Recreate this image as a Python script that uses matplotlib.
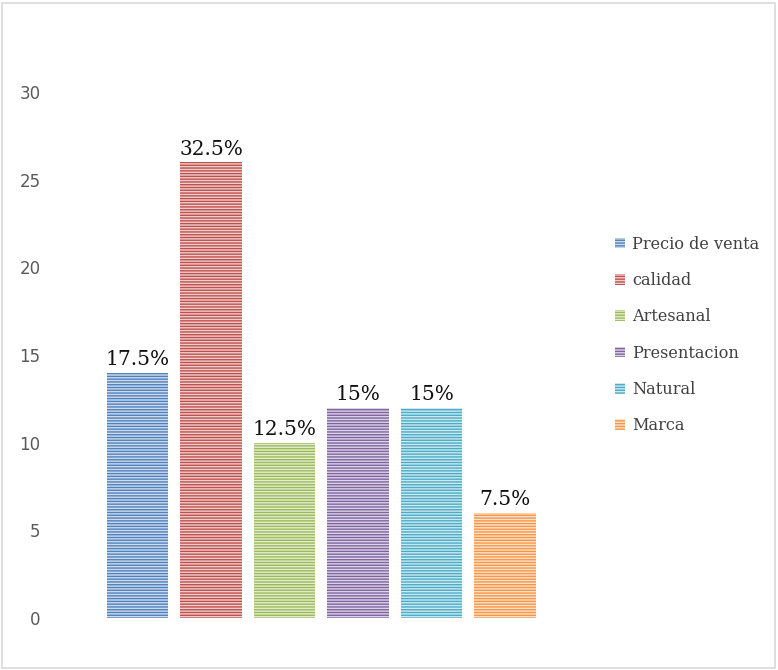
import matplotlib.pyplot as plt
from matplotlib.patches import Rectangle
import matplotlib.colors as mcolors
import numpy as np

# survey counts per attribute (80 answers in total)
categorias = ["Precio de venta", "calidad", "Artesanal", "Presentacion", "Natural", "Marca"]
valores = [14, 26, 10, 12, 12, 6]
total = 80
colores = ["#4F81BD", "#C0504D", "#9BBB59", "#8064A2", "#4BACC6", "#F79646"]

plt.rcParams['hatch.linewidth'] = 1.0


def lighten(c, amt):
    r = np.array(mcolors.to_rgb(c))
    return tuple(r + (1 - r) * amt)


fig = plt.figure(figsize=(7.78, 6.70), dpi=100)
W, H = 778, 670
ax = fig.add_axes([64 / W, 1 - 618 / H, (578.5 - 64) / W, (618 - 92) / H])

x = np.arange(len(valores))
for i, (v, c, name) in enumerate(zip(valores, colores, categorias)):
    ax.bar(x[i], v, width=0.84, facecolor=lighten(c, 0.72), edgecolor=c,
           hatch="------", linewidth=0, label=name)
    pct = v / total * 100
    txt = f"{pct:.1f}%" if pct % 1 else f"{pct:.0f}%"
    ax.text(x[i], v + 0.2, txt, ha="center", va="bottom",
            family="DejaVu Serif", fontsize=14.5, color="#111111", clip_on=False)

ax.set_xlim(-1, 6)
ax.set_ylim(0, 30)
ax.set_yticks([0, 5, 10, 15, 20, 25, 30])
ax.set_xticks([])
ax.tick_params(axis="y", length=0, pad=17, labelsize=12, labelcolor="#595959")
for s in ax.spines.values():
    s.set_visible(False)

leg = ax.legend(loc="center left", bbox_to_anchor=(600 / W, 1 - 335 / H),
                bbox_transform=fig.transFigure, frameon=False,
                prop={"family": "DejaVu Serif", "size": 11.6},
                handlelength=0.65, handleheight=0.65, handletextpad=0.45,
                labelspacing=1.2, labelcolor="#404040")

# outer chart border
fig.patches.append(Rectangle((2 / W, 2 / H), 1 - 5 / W, 1 - 5 / H,
                             transform=fig.transFigure, fill=False,
                             edgecolor="#D9D9D9", linewidth=1.2))

fig.savefig("out.png", dpi=100)
